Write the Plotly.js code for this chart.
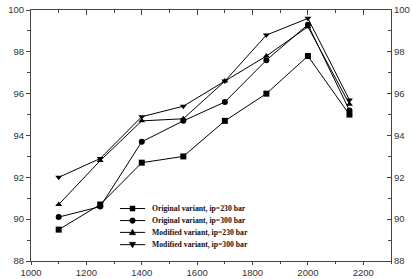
<!DOCTYPE html>
<html><head><meta charset="utf-8">
<script src="https://cdn.plot.ly/plotly-3.0.1.min.js"></script>
<style>html,body{margin:0;padding:0;background:#fff}#c{width:412px;height:279px}</style>
</head><body><div id="c"></div>
<script>
const xVals = [1100, 1250, 1400, 1550, 1700, 1850, 2000, 2150];
const orig230 = [89.5, 90.7, 92.7, 93.0, 94.7, 96.0, 97.8, 95.0];
const orig300 = [90.1, 90.6, 93.7, 94.7, 95.6, 97.6, 99.3, 95.2];
const mod230  = [90.7, 92.8, 94.7, 94.8, 96.6, 97.8, 99.2, 95.5];
const mod300  = [92.0, 92.9, 94.9, 95.4, 96.6, 98.8, 99.6, 95.7];
const names = ['Original variant, ip=230 bar','Original variant, ip=300 bar','Modified variant, ip=230 bar','Modified variant, ip=300 bar'];
const symbols = ['square','circle','triangle-up','triangle-down'];
const series = [orig230, orig300, mod230, mod300];

const traces = series.map((s,i)=>({
  x: xVals, y: s, name: names[i], type:'scatter', mode:'lines+markers',
  line:{color:'#000', width:1},
  marker:{symbol:symbols[i], size:6, color:'#000'}
}));
// helper trace so the top/right frame axes are drawn
traces.push({x:[xVals[0]], y:[orig230[0]], xaxis:'x2', yaxis:'y2', mode:'markers', marker:{opacity:0}, showlegend:false, hoverinfo:'skip'});

const axLine = {showgrid:false, zeroline:false, showline:true, linecolor:'#444', linewidth:1, tickcolor:'#444'};
const lblFont = {family:'Liberation Sans, Arial', size:9.5, color:'#333'};

// hand-built compact legend (positions in paper coords)
const legX0 = 0.247, legX1 = 0.317, legXm = 0.282, legTx = 0.331;
const legY = [0.209, 0.161, 0.114, 0.065];
const markerShapes = [
  {type:'rect', x0:-2.5, x1:2.5, y0:-2.5, y1:2.5},
  {type:'circle', x0:-2.8, x1:2.8, y0:-2.8, y1:2.8},
  {type:'path', path:'M-3.2,-2.4 L3.2,-2.4 L0,3.2 Z'},
  {type:'path', path:'M-3.2,2.4 L3.2,2.4 L0,-3.2 Z'}
];
const shapes = [], annotations = [];
names.forEach((n,i)=>{
  shapes.push({type:'line', xref:'paper', yref:'paper', x0:legX0, x1:legX1, y0:legY[i], y1:legY[i], line:{color:'#000', width:1}});
  shapes.push(Object.assign({xref:'paper', yref:'paper', xsizemode:'pixel', ysizemode:'pixel', xanchor:legXm, yanchor:legY[i],
    fillcolor:'#000', line:{color:'#000', width:0.5}}, markerShapes[i]));
  annotations.push({xref:'paper', yref:'paper', x:legTx, y:legY[i], xanchor:'left', yanchor:'middle', showarrow:false, text:n,
    font:{family:'Liberation Serif, Times New Roman', size:7.7, color:'#111', weight:'bold'}});
});

const layout = {
  width:412, height:279,
  margin:{l:31, r:21, t:10, b:18},
  paper_bgcolor:'#fff', plot_bgcolor:'#fff',
  showlegend:false,
  shapes:shapes, annotations:annotations,
  xaxis:Object.assign({}, axLine, {range:[1000,2300], dtick:200, tick0:1000, ticks:'outside', ticklen:3,
    tickfont:{family:'Liberation Sans, Arial', size:9.5, color:'#333'},
    minor:{dtick:100, ticks:'outside', ticklen:2, tickcolor:'#444'}}),
  xaxis2:Object.assign({}, axLine, {range:[1000,2300], dtick:200, tick0:1000, overlaying:'x', side:'top', ticks:'inside', ticklen:5, showticklabels:false,
    minor:{dtick:100, ticks:'inside', ticklen:3, tickcolor:'#444'}}),
  yaxis:Object.assign({}, axLine, {range:[88,100], dtick:2, tick0:88, ticks:'outside', ticklen:4, tickfont:lblFont,
    minor:{dtick:1, ticks:'outside', ticklen:3, tickcolor:'#444'}}),
  yaxis2:Object.assign({}, axLine, {range:[88,100], dtick:2, tick0:88, overlaying:'y', side:'right', ticks:'inside', ticklen:4, tickfont:lblFont,
    minor:{dtick:1, ticks:'inside', ticklen:3, tickcolor:'#444'}})
};
Plotly.newPlot('c', traces, layout, {staticPlot:true, displayModeBar:false});
</script></body></html>
